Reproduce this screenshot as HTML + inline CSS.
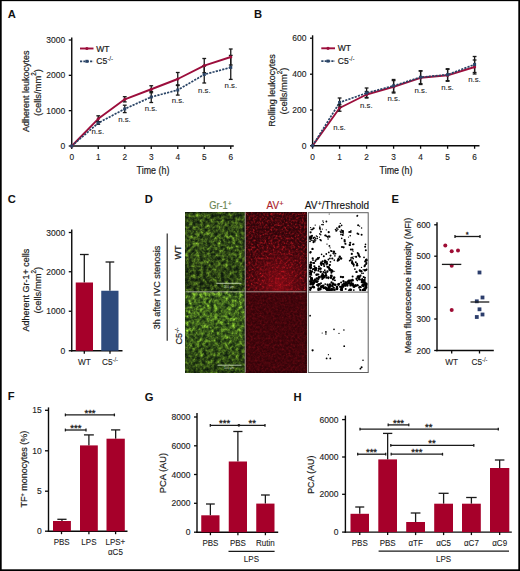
<!DOCTYPE html>
<html><head><meta charset="utf-8"><style>
html,body{margin:0;padding:0;background:#fff;}
svg{display:block;font-family:"Liberation Sans", sans-serif;}
</style></head><body>
<svg width="520" height="571" viewBox="0 0 520 571">
<rect x="0" y="0" width="520" height="571" fill="#fff"/>
<text x="7.80" y="17.60" font-size="11.2" font-weight="bold" fill="#111">A</text>
<line x1="71.75" y1="37.40" x2="71.75" y2="146.70" stroke="#0a0a0a" stroke-width="1.4" />
<line x1="68.75" y1="146.00" x2="71.75" y2="146.00" stroke="#0a0a0a" stroke-width="1.3" />
<text x="65.15" y="149.06" font-size="8.5" text-anchor="end" fill="#1c1c1c" stroke="#1c1c1c" stroke-width="0.12" font-weight="normal" >0</text>
<line x1="68.75" y1="110.67" x2="71.75" y2="110.67" stroke="#0a0a0a" stroke-width="1.3" />
<text x="65.15" y="113.73" font-size="8.5" text-anchor="end" fill="#1c1c1c" stroke="#1c1c1c" stroke-width="0.12" font-weight="normal" >1000</text>
<line x1="68.75" y1="75.33" x2="71.75" y2="75.33" stroke="#0a0a0a" stroke-width="1.3" />
<text x="65.15" y="78.39" font-size="8.5" text-anchor="end" fill="#1c1c1c" stroke="#1c1c1c" stroke-width="0.12" font-weight="normal" >2000</text>
<line x1="68.75" y1="40.00" x2="71.75" y2="40.00" stroke="#0a0a0a" stroke-width="1.3" />
<text x="65.15" y="43.06" font-size="8.5" text-anchor="end" fill="#1c1c1c" stroke="#1c1c1c" stroke-width="0.12" font-weight="normal" >3000</text>
<line x1="71.05" y1="146.00" x2="233.75" y2="146.00" stroke="#0a0a0a" stroke-width="1.4" />
<line x1="71.75" y1="146.00" x2="71.75" y2="149.00" stroke="#0a0a0a" stroke-width="1.3" />
<line x1="98.25" y1="146.00" x2="98.25" y2="149.00" stroke="#0a0a0a" stroke-width="1.3" />
<line x1="124.75" y1="146.00" x2="124.75" y2="149.00" stroke="#0a0a0a" stroke-width="1.3" />
<line x1="151.25" y1="146.00" x2="151.25" y2="149.00" stroke="#0a0a0a" stroke-width="1.3" />
<line x1="177.75" y1="146.00" x2="177.75" y2="149.00" stroke="#0a0a0a" stroke-width="1.3" />
<line x1="204.25" y1="146.00" x2="204.25" y2="149.00" stroke="#0a0a0a" stroke-width="1.3" />
<line x1="230.75" y1="146.00" x2="230.75" y2="149.00" stroke="#0a0a0a" stroke-width="1.3" />
<text x="71.75" y="159.99" font-size="8.3" text-anchor="middle" fill="#1c1c1c" stroke="#1c1c1c" stroke-width="0.12" font-weight="normal" >0</text>
<text x="98.25" y="159.99" font-size="8.3" text-anchor="middle" fill="#1c1c1c" stroke="#1c1c1c" stroke-width="0.12" font-weight="normal" >1</text>
<text x="124.75" y="159.99" font-size="8.3" text-anchor="middle" fill="#1c1c1c" stroke="#1c1c1c" stroke-width="0.12" font-weight="normal" >2</text>
<text x="151.25" y="159.99" font-size="8.3" text-anchor="middle" fill="#1c1c1c" stroke="#1c1c1c" stroke-width="0.12" font-weight="normal" >3</text>
<text x="177.75" y="159.99" font-size="8.3" text-anchor="middle" fill="#1c1c1c" stroke="#1c1c1c" stroke-width="0.12" font-weight="normal" >4</text>
<text x="204.25" y="159.99" font-size="8.3" text-anchor="middle" fill="#1c1c1c" stroke="#1c1c1c" stroke-width="0.12" font-weight="normal" >5</text>
<text x="230.75" y="159.99" font-size="8.3" text-anchor="middle" fill="#1c1c1c" stroke="#1c1c1c" stroke-width="0.12" font-weight="normal" >6</text>
<text transform="translate(153.0,173.6) scale(0.89,1)" font-size="10" text-anchor="middle" fill="#1c1c1c" stroke="#1c1c1c" stroke-width="0.2">Time (h)</text>
<text transform="translate(28.70,91.30) rotate(-90)" font-size="9" text-anchor="middle" fill="#1c1c1c" stroke="#1c1c1c" stroke-width="0.2">Adherent leukocytes</text>
<text transform="translate(41.00,92.50) rotate(-90)" font-size="9" text-anchor="middle" fill="#1c1c1c" stroke="#1c1c1c" stroke-width="0.2"><tspan font-size="9.4">(cells/mm</tspan><tspan font-size="6.3" dy="-4.6">2</tspan><tspan font-size="9.4" dy="4.6">)</tspan></text>
<polyline points="71.75,146.00 98.25,118.80 124.75,99.30 151.25,89.25 177.75,79.00 204.25,65.60 230.75,57.00" fill="none" stroke="#9c0e3c" stroke-width="1.9" stroke-linejoin="round"/>
<polyline points="71.75,146.00 98.25,123.00 124.75,108.90 151.25,97.00 177.75,90.00 204.25,74.50 230.75,67.40" fill="none" stroke="#2a4466" stroke-width="1.7" stroke-dasharray="2.2,1.15"/>
<line x1="98.25" y1="115.80" x2="98.25" y2="121.80" stroke="#1a1a1a" stroke-width="1.3" />
<line x1="96.35" y1="115.80" x2="100.15" y2="115.80" stroke="#1a1a1a" stroke-width="1.3" />
<line x1="96.35" y1="121.80" x2="100.15" y2="121.80" stroke="#1a1a1a" stroke-width="1.3" />
<line x1="98.25" y1="121.70" x2="98.25" y2="124.30" stroke="#1a1a1a" stroke-width="1.3" />
<line x1="96.35" y1="121.70" x2="100.15" y2="121.70" stroke="#1a1a1a" stroke-width="1.3" />
<line x1="96.35" y1="124.30" x2="100.15" y2="124.30" stroke="#1a1a1a" stroke-width="1.3" />
<line x1="124.75" y1="96.70" x2="124.75" y2="101.90" stroke="#1a1a1a" stroke-width="1.3" />
<line x1="122.85" y1="96.70" x2="126.65" y2="96.70" stroke="#1a1a1a" stroke-width="1.3" />
<line x1="122.85" y1="101.90" x2="126.65" y2="101.90" stroke="#1a1a1a" stroke-width="1.3" />
<line x1="124.75" y1="105.20" x2="124.75" y2="112.60" stroke="#1a1a1a" stroke-width="1.3" />
<line x1="122.85" y1="105.20" x2="126.65" y2="105.20" stroke="#1a1a1a" stroke-width="1.3" />
<line x1="122.85" y1="112.60" x2="126.65" y2="112.60" stroke="#1a1a1a" stroke-width="1.3" />
<line x1="151.25" y1="85.75" x2="151.25" y2="92.75" stroke="#1a1a1a" stroke-width="1.3" />
<line x1="149.35" y1="85.75" x2="153.15" y2="85.75" stroke="#1a1a1a" stroke-width="1.3" />
<line x1="149.35" y1="92.75" x2="153.15" y2="92.75" stroke="#1a1a1a" stroke-width="1.3" />
<line x1="151.25" y1="91.50" x2="151.25" y2="102.50" stroke="#1a1a1a" stroke-width="1.3" />
<line x1="149.35" y1="91.50" x2="153.15" y2="91.50" stroke="#1a1a1a" stroke-width="1.3" />
<line x1="149.35" y1="102.50" x2="153.15" y2="102.50" stroke="#1a1a1a" stroke-width="1.3" />
<line x1="177.75" y1="72.50" x2="177.75" y2="85.50" stroke="#1a1a1a" stroke-width="1.3" />
<line x1="175.85" y1="72.50" x2="179.65" y2="72.50" stroke="#1a1a1a" stroke-width="1.3" />
<line x1="175.85" y1="85.50" x2="179.65" y2="85.50" stroke="#1a1a1a" stroke-width="1.3" />
<line x1="177.75" y1="84.90" x2="177.75" y2="95.10" stroke="#1a1a1a" stroke-width="1.3" />
<line x1="175.85" y1="84.90" x2="179.65" y2="84.90" stroke="#1a1a1a" stroke-width="1.3" />
<line x1="175.85" y1="95.10" x2="179.65" y2="95.10" stroke="#1a1a1a" stroke-width="1.3" />
<line x1="204.25" y1="58.50" x2="204.25" y2="72.70" stroke="#1a1a1a" stroke-width="1.3" />
<line x1="202.35" y1="58.50" x2="206.15" y2="58.50" stroke="#1a1a1a" stroke-width="1.3" />
<line x1="202.35" y1="72.70" x2="206.15" y2="72.70" stroke="#1a1a1a" stroke-width="1.3" />
<line x1="204.25" y1="66.00" x2="204.25" y2="83.00" stroke="#1a1a1a" stroke-width="1.3" />
<line x1="202.35" y1="66.00" x2="206.15" y2="66.00" stroke="#1a1a1a" stroke-width="1.3" />
<line x1="202.35" y1="83.00" x2="206.15" y2="83.00" stroke="#1a1a1a" stroke-width="1.3" />
<line x1="230.75" y1="49.00" x2="230.75" y2="65.00" stroke="#1a1a1a" stroke-width="1.3" />
<line x1="228.85" y1="49.00" x2="232.65" y2="49.00" stroke="#1a1a1a" stroke-width="1.3" />
<line x1="228.85" y1="65.00" x2="232.65" y2="65.00" stroke="#1a1a1a" stroke-width="1.3" />
<line x1="230.75" y1="55.40" x2="230.75" y2="79.40" stroke="#1a1a1a" stroke-width="1.3" />
<line x1="228.85" y1="55.40" x2="232.65" y2="55.40" stroke="#1a1a1a" stroke-width="1.3" />
<line x1="228.85" y1="79.40" x2="232.65" y2="79.40" stroke="#1a1a1a" stroke-width="1.3" />
<circle cx="71.75" cy="146.00" r="1.6" fill="#9c0e3c"/>
<rect x="70.25" y="144.50" width="3.00" height="3.00" fill="#2a4466"/>
<circle cx="98.25" cy="118.80" r="1.6" fill="#9c0e3c"/>
<rect x="96.75" y="121.50" width="3.00" height="3.00" fill="#2a4466"/>
<circle cx="124.75" cy="99.30" r="1.6" fill="#9c0e3c"/>
<rect x="123.25" y="107.40" width="3.00" height="3.00" fill="#2a4466"/>
<circle cx="151.25" cy="89.25" r="1.6" fill="#9c0e3c"/>
<rect x="149.75" y="95.50" width="3.00" height="3.00" fill="#2a4466"/>
<circle cx="177.75" cy="79.00" r="1.6" fill="#9c0e3c"/>
<rect x="176.25" y="88.50" width="3.00" height="3.00" fill="#2a4466"/>
<circle cx="204.25" cy="65.60" r="1.6" fill="#9c0e3c"/>
<rect x="202.75" y="73.00" width="3.00" height="3.00" fill="#2a4466"/>
<circle cx="230.75" cy="57.00" r="1.6" fill="#9c0e3c"/>
<rect x="229.25" y="65.90" width="3.00" height="3.00" fill="#2a4466"/>
<text x="97.80" y="134.43" font-size="7.8" text-anchor="middle" fill="#1c1c1c" stroke="#1c1c1c" stroke-width="0.1" font-weight="normal" >n.s.</text>
<text x="124.50" y="122.23" font-size="7.8" text-anchor="middle" fill="#1c1c1c" stroke="#1c1c1c" stroke-width="0.1" font-weight="normal" >n.s.</text>
<text x="151.00" y="111.03" font-size="7.8" text-anchor="middle" fill="#1c1c1c" stroke="#1c1c1c" stroke-width="0.1" font-weight="normal" >n.s.</text>
<text x="178.00" y="103.33" font-size="7.8" text-anchor="middle" fill="#1c1c1c" stroke="#1c1c1c" stroke-width="0.1" font-weight="normal" >n.s.</text>
<text x="204.40" y="92.53" font-size="7.8" text-anchor="middle" fill="#1c1c1c" stroke="#1c1c1c" stroke-width="0.1" font-weight="normal" >n.s.</text>
<text x="230.90" y="88.23" font-size="7.8" text-anchor="middle" fill="#1c1c1c" stroke="#1c1c1c" stroke-width="0.1" font-weight="normal" >n.s.</text>
<line x1="80.00" y1="48.50" x2="93.50" y2="48.50" stroke="#9c0e3c" stroke-width="1.9" />
<circle cx="86.9" cy="48.5" r="1.6" fill="#9c0e3c"/>
<text x="96.30" y="51.56" font-size="8.5" text-anchor="start" fill="#1c1c1c" stroke="#1c1c1c" stroke-width="0.2" font-weight="normal" >WT</text>
<line x1="80.00" y1="61.30" x2="93.50" y2="61.30" stroke="#2a4466" stroke-width="1.7" stroke-dasharray="2.2,1.15"/>
<rect x="85.40" y="59.80" width="3.00" height="3.00" fill="#2a4466"/>
<text x="96.30" y="64.36" font-size="8.5" text-anchor="start" fill="#1c1c1c" stroke="#1c1c1c" stroke-width="0.2" font-weight="normal" >C5<tspan font-size="6.3" stroke-width="0.05" dy="-3">-/-</tspan></text>
<text x="254.00" y="17.60" font-size="11.2" font-weight="bold" fill="#111">B</text>
<line x1="312.60" y1="35.30" x2="312.60" y2="146.45" stroke="#0a0a0a" stroke-width="1.4" />
<line x1="310.00" y1="145.75" x2="312.60" y2="145.75" stroke="#0a0a0a" stroke-width="1.3" />
<text x="306.40" y="148.81" font-size="8.5" text-anchor="end" fill="#1c1c1c" stroke="#1c1c1c" stroke-width="0.12" font-weight="normal" >0</text>
<line x1="310.00" y1="110.00" x2="312.60" y2="110.00" stroke="#0a0a0a" stroke-width="1.3" />
<text x="306.40" y="113.06" font-size="8.5" text-anchor="end" fill="#1c1c1c" stroke="#1c1c1c" stroke-width="0.12" font-weight="normal" >200</text>
<line x1="310.00" y1="74.20" x2="312.60" y2="74.20" stroke="#0a0a0a" stroke-width="1.3" />
<text x="306.40" y="77.26" font-size="8.5" text-anchor="end" fill="#1c1c1c" stroke="#1c1c1c" stroke-width="0.12" font-weight="normal" >400</text>
<line x1="310.00" y1="38.20" x2="312.60" y2="38.20" stroke="#0a0a0a" stroke-width="1.3" />
<text x="306.40" y="41.26" font-size="8.5" text-anchor="end" fill="#1c1c1c" stroke="#1c1c1c" stroke-width="0.12" font-weight="normal" >600</text>
<line x1="311.90" y1="145.75" x2="479.50" y2="145.75" stroke="#0a0a0a" stroke-width="1.4" />
<line x1="312.60" y1="145.75" x2="312.60" y2="148.75" stroke="#0a0a0a" stroke-width="1.3" />
<line x1="339.60" y1="145.75" x2="339.60" y2="148.75" stroke="#0a0a0a" stroke-width="1.3" />
<line x1="366.60" y1="145.75" x2="366.60" y2="148.75" stroke="#0a0a0a" stroke-width="1.3" />
<line x1="393.60" y1="145.75" x2="393.60" y2="148.75" stroke="#0a0a0a" stroke-width="1.3" />
<line x1="420.60" y1="145.75" x2="420.60" y2="148.75" stroke="#0a0a0a" stroke-width="1.3" />
<line x1="447.60" y1="145.75" x2="447.60" y2="148.75" stroke="#0a0a0a" stroke-width="1.3" />
<line x1="474.60" y1="145.75" x2="474.60" y2="148.75" stroke="#0a0a0a" stroke-width="1.3" />
<text x="312.60" y="159.99" font-size="8.3" text-anchor="middle" fill="#1c1c1c" stroke="#1c1c1c" stroke-width="0.12" font-weight="normal" >0</text>
<text x="339.60" y="159.99" font-size="8.3" text-anchor="middle" fill="#1c1c1c" stroke="#1c1c1c" stroke-width="0.12" font-weight="normal" >1</text>
<text x="366.60" y="159.99" font-size="8.3" text-anchor="middle" fill="#1c1c1c" stroke="#1c1c1c" stroke-width="0.12" font-weight="normal" >2</text>
<text x="393.60" y="159.99" font-size="8.3" text-anchor="middle" fill="#1c1c1c" stroke="#1c1c1c" stroke-width="0.12" font-weight="normal" >3</text>
<text x="420.60" y="159.99" font-size="8.3" text-anchor="middle" fill="#1c1c1c" stroke="#1c1c1c" stroke-width="0.12" font-weight="normal" >4</text>
<text x="447.60" y="159.99" font-size="8.3" text-anchor="middle" fill="#1c1c1c" stroke="#1c1c1c" stroke-width="0.12" font-weight="normal" >5</text>
<text x="474.60" y="159.99" font-size="8.3" text-anchor="middle" fill="#1c1c1c" stroke="#1c1c1c" stroke-width="0.12" font-weight="normal" >6</text>
<text transform="translate(396.0,173.6) scale(0.89,1)" font-size="10" text-anchor="middle" fill="#1c1c1c" stroke="#1c1c1c" stroke-width="0.2">Time (h)</text>
<text transform="translate(274.90,90.50) rotate(-90)" font-size="9" text-anchor="middle" fill="#1c1c1c" stroke="#1c1c1c" stroke-width="0.2">Rolling leukocytes</text>
<text transform="translate(286.90,91.00) rotate(-90)" font-size="9" text-anchor="middle" fill="#1c1c1c" stroke="#1c1c1c" stroke-width="0.2"><tspan font-size="9.4">(cells/mm</tspan><tspan font-size="6.3" dy="-4.6">2</tspan><tspan font-size="9.4" dy="4.6">)</tspan></text>
<polyline points="312.60,145.75 339.60,108.00 366.60,94.50 393.60,86.80 420.60,77.80 447.60,75.30 474.60,67.00" fill="none" stroke="#9c0e3c" stroke-width="1.9" stroke-linejoin="round"/>
<polyline points="312.60,145.75 339.60,102.50 366.60,93.00 393.60,85.80 420.60,77.20 447.60,74.70 474.60,64.50" fill="none" stroke="#2a4466" stroke-width="1.7" stroke-dasharray="2.2,1.15"/>
<line x1="339.60" y1="98.00" x2="339.60" y2="107.00" stroke="#1a1a1a" stroke-width="1.3" />
<line x1="337.70" y1="98.00" x2="341.50" y2="98.00" stroke="#1a1a1a" stroke-width="1.3" />
<line x1="337.70" y1="107.00" x2="341.50" y2="107.00" stroke="#1a1a1a" stroke-width="1.3" />
<line x1="339.60" y1="104.75" x2="339.60" y2="111.25" stroke="#1a1a1a" stroke-width="1.3" />
<line x1="337.70" y1="104.75" x2="341.50" y2="104.75" stroke="#1a1a1a" stroke-width="1.3" />
<line x1="337.70" y1="111.25" x2="341.50" y2="111.25" stroke="#1a1a1a" stroke-width="1.3" />
<line x1="366.60" y1="88.00" x2="366.60" y2="98.00" stroke="#1a1a1a" stroke-width="1.3" />
<line x1="364.70" y1="88.00" x2="368.50" y2="88.00" stroke="#1a1a1a" stroke-width="1.3" />
<line x1="364.70" y1="98.00" x2="368.50" y2="98.00" stroke="#1a1a1a" stroke-width="1.3" />
<line x1="366.60" y1="91.50" x2="366.60" y2="97.50" stroke="#1a1a1a" stroke-width="1.3" />
<line x1="364.70" y1="91.50" x2="368.50" y2="91.50" stroke="#1a1a1a" stroke-width="1.3" />
<line x1="364.70" y1="97.50" x2="368.50" y2="97.50" stroke="#1a1a1a" stroke-width="1.3" />
<line x1="393.60" y1="79.50" x2="393.60" y2="92.10" stroke="#1a1a1a" stroke-width="1.3" />
<line x1="391.70" y1="79.50" x2="395.50" y2="79.50" stroke="#1a1a1a" stroke-width="1.3" />
<line x1="391.70" y1="92.10" x2="395.50" y2="92.10" stroke="#1a1a1a" stroke-width="1.3" />
<line x1="393.60" y1="80.60" x2="393.60" y2="93.00" stroke="#1a1a1a" stroke-width="1.3" />
<line x1="391.70" y1="80.60" x2="395.50" y2="80.60" stroke="#1a1a1a" stroke-width="1.3" />
<line x1="391.70" y1="93.00" x2="395.50" y2="93.00" stroke="#1a1a1a" stroke-width="1.3" />
<line x1="420.60" y1="70.75" x2="420.60" y2="83.65" stroke="#1a1a1a" stroke-width="1.3" />
<line x1="418.70" y1="70.75" x2="422.50" y2="70.75" stroke="#1a1a1a" stroke-width="1.3" />
<line x1="418.70" y1="83.65" x2="422.50" y2="83.65" stroke="#1a1a1a" stroke-width="1.3" />
<line x1="420.60" y1="71.10" x2="420.60" y2="84.50" stroke="#1a1a1a" stroke-width="1.3" />
<line x1="418.70" y1="71.10" x2="422.50" y2="71.10" stroke="#1a1a1a" stroke-width="1.3" />
<line x1="418.70" y1="84.50" x2="422.50" y2="84.50" stroke="#1a1a1a" stroke-width="1.3" />
<line x1="447.60" y1="68.75" x2="447.60" y2="80.65" stroke="#1a1a1a" stroke-width="1.3" />
<line x1="445.70" y1="68.75" x2="449.50" y2="68.75" stroke="#1a1a1a" stroke-width="1.3" />
<line x1="445.70" y1="80.65" x2="449.50" y2="80.65" stroke="#1a1a1a" stroke-width="1.3" />
<line x1="447.60" y1="69.35" x2="447.60" y2="81.25" stroke="#1a1a1a" stroke-width="1.3" />
<line x1="445.70" y1="69.35" x2="449.50" y2="69.35" stroke="#1a1a1a" stroke-width="1.3" />
<line x1="445.70" y1="81.25" x2="449.50" y2="81.25" stroke="#1a1a1a" stroke-width="1.3" />
<line x1="474.60" y1="56.50" x2="474.60" y2="72.50" stroke="#1a1a1a" stroke-width="1.3" />
<line x1="472.70" y1="56.50" x2="476.50" y2="56.50" stroke="#1a1a1a" stroke-width="1.3" />
<line x1="472.70" y1="72.50" x2="476.50" y2="72.50" stroke="#1a1a1a" stroke-width="1.3" />
<line x1="474.60" y1="60.00" x2="474.60" y2="74.00" stroke="#1a1a1a" stroke-width="1.3" />
<line x1="472.70" y1="60.00" x2="476.50" y2="60.00" stroke="#1a1a1a" stroke-width="1.3" />
<line x1="472.70" y1="74.00" x2="476.50" y2="74.00" stroke="#1a1a1a" stroke-width="1.3" />
<circle cx="312.60" cy="145.75" r="1.6" fill="#9c0e3c"/>
<rect x="311.10" y="144.25" width="3.00" height="3.00" fill="#2a4466"/>
<circle cx="339.60" cy="108.00" r="1.6" fill="#9c0e3c"/>
<rect x="338.10" y="101.00" width="3.00" height="3.00" fill="#2a4466"/>
<circle cx="366.60" cy="94.50" r="1.6" fill="#9c0e3c"/>
<rect x="365.10" y="91.50" width="3.00" height="3.00" fill="#2a4466"/>
<circle cx="393.60" cy="86.80" r="1.6" fill="#9c0e3c"/>
<rect x="392.10" y="84.30" width="3.00" height="3.00" fill="#2a4466"/>
<circle cx="420.60" cy="77.80" r="1.6" fill="#9c0e3c"/>
<rect x="419.10" y="75.70" width="3.00" height="3.00" fill="#2a4466"/>
<circle cx="447.60" cy="75.30" r="1.6" fill="#9c0e3c"/>
<rect x="446.10" y="73.20" width="3.00" height="3.00" fill="#2a4466"/>
<circle cx="474.60" cy="67.00" r="1.6" fill="#9c0e3c"/>
<rect x="473.10" y="63.00" width="3.00" height="3.00" fill="#2a4466"/>
<text x="339.50" y="129.53" font-size="7.8" text-anchor="middle" fill="#1c1c1c" stroke="#1c1c1c" stroke-width="0.1" font-weight="normal" >n.s.</text>
<text x="366.30" y="107.83" font-size="7.8" text-anchor="middle" fill="#1c1c1c" stroke="#1c1c1c" stroke-width="0.1" font-weight="normal" >n.s.</text>
<text x="393.80" y="100.83" font-size="7.8" text-anchor="middle" fill="#1c1c1c" stroke="#1c1c1c" stroke-width="0.1" font-weight="normal" >n.s.</text>
<text x="420.80" y="92.83" font-size="7.8" text-anchor="middle" fill="#1c1c1c" stroke="#1c1c1c" stroke-width="0.1" font-weight="normal" >n.s.</text>
<text x="447.50" y="90.03" font-size="7.8" text-anchor="middle" fill="#1c1c1c" stroke="#1c1c1c" stroke-width="0.1" font-weight="normal" >n.s.</text>
<text x="474.50" y="82.03" font-size="7.8" text-anchor="middle" fill="#1c1c1c" stroke="#1c1c1c" stroke-width="0.1" font-weight="normal" >n.s.</text>
<line x1="321.30" y1="48.30" x2="335.00" y2="48.30" stroke="#9c0e3c" stroke-width="1.9" />
<circle cx="328" cy="48.3" r="1.6" fill="#9c0e3c"/>
<text x="337.80" y="51.36" font-size="8.5" text-anchor="start" fill="#1c1c1c" stroke="#1c1c1c" stroke-width="0.2" font-weight="normal" >WT</text>
<line x1="321.30" y1="61.10" x2="335.00" y2="61.10" stroke="#2a4466" stroke-width="1.7" stroke-dasharray="2.2,1.15"/>
<rect x="326.50" y="59.60" width="3.00" height="3.00" fill="#2a4466"/>
<text x="337.80" y="64.16" font-size="8.5" text-anchor="start" fill="#1c1c1c" stroke="#1c1c1c" stroke-width="0.2" font-weight="normal" >C5<tspan font-size="6.3" stroke-width="0.05" dy="-3">-/-</tspan></text>
<text x="7.80" y="202.60" font-size="11.2" font-weight="bold" fill="#111">C</text>
<line x1="71.75" y1="229.50" x2="71.75" y2="351.45" stroke="#0a0a0a" stroke-width="1.4" />
<line x1="68.75" y1="350.75" x2="71.75" y2="350.75" stroke="#0a0a0a" stroke-width="1.3" />
<text x="65.15" y="353.81" font-size="8.5" text-anchor="end" fill="#1c1c1c" stroke="#1c1c1c" stroke-width="0.12" font-weight="normal" >0</text>
<line x1="68.75" y1="311.25" x2="71.75" y2="311.25" stroke="#0a0a0a" stroke-width="1.3" />
<text x="65.15" y="314.31" font-size="8.5" text-anchor="end" fill="#1c1c1c" stroke="#1c1c1c" stroke-width="0.12" font-weight="normal" >1000</text>
<line x1="68.75" y1="271.75" x2="71.75" y2="271.75" stroke="#0a0a0a" stroke-width="1.3" />
<text x="65.15" y="274.81" font-size="8.5" text-anchor="end" fill="#1c1c1c" stroke="#1c1c1c" stroke-width="0.12" font-weight="normal" >2000</text>
<line x1="68.75" y1="232.50" x2="71.75" y2="232.50" stroke="#0a0a0a" stroke-width="1.3" />
<text x="65.15" y="235.56" font-size="8.5" text-anchor="end" fill="#1c1c1c" stroke="#1c1c1c" stroke-width="0.12" font-weight="normal" >3000</text>
<line x1="71.05" y1="350.75" x2="122.50" y2="350.75" stroke="#0a0a0a" stroke-width="1.4" />
<line x1="84.30" y1="350.75" x2="84.30" y2="353.75" stroke="#0a0a0a" stroke-width="1.3" />
<line x1="110.00" y1="350.75" x2="110.00" y2="353.75" stroke="#0a0a0a" stroke-width="1.3" />
<line x1="84.30" y1="254.50" x2="84.30" y2="282.50" stroke="#1a1a1a" stroke-width="1.3" />
<line x1="79.95" y1="254.50" x2="88.65" y2="254.50" stroke="#1a1a1a" stroke-width="1.3" />
<line x1="109.90" y1="262.00" x2="109.90" y2="290.75" stroke="#1a1a1a" stroke-width="1.3" />
<line x1="105.55" y1="262.00" x2="114.25" y2="262.00" stroke="#1a1a1a" stroke-width="1.3" />
<rect x="75.75" y="282.50" width="17.25" height="68.25" fill="#a6002a"/>
<rect x="101.25" y="290.75" width="17.25" height="60.00" fill="#2e4b7d"/>
<text transform="translate(84.30,364.54) scale(0.92,1)" font-size="9" text-anchor="middle" fill="#1c1c1c" stroke="#1c1c1c" stroke-width="0.1">WT</text>
<text transform="translate(110.00,364.54) scale(0.92,1)" font-size="9" text-anchor="middle" fill="#1c1c1c" stroke="#1c1c1c" stroke-width="0.1">C5<tspan font-size="6.3" stroke-width="0.05" dy="-3">-/-</tspan></text>
<text transform="translate(29.00,290.20) rotate(-90)" font-size="9" text-anchor="middle" fill="#1c1c1c" stroke="#1c1c1c" stroke-width="0.2">Adherent Gr-1+ cells</text>
<text transform="translate(41.00,290.20) rotate(-90)" font-size="9" text-anchor="middle" fill="#1c1c1c" stroke="#1c1c1c" stroke-width="0.2"><tspan font-size="9.4">(cells/mm</tspan><tspan font-size="6.3" dy="-4.6">2</tspan><tspan font-size="9.4" dy="4.6">)</tspan></text>
<text x="144.80" y="202.60" font-size="11.2" font-weight="bold" fill="#111">D</text>
<text transform="translate(209.2,208.7) scale(0.93,1)" font-size="10" fill="#6a8452" stroke="#6a8452" stroke-width="0.15">Gr-1<tspan font-size="7.5" dy="-2.6">+</tspan></text>
<text x="266.6" y="208.7" font-size="10" fill="#ad1f30" stroke="#ad1f30" stroke-width="0.15">AV<tspan font-size="7.5" dy="-2.6">+</tspan></text>
<text x="304.8" y="208.7" font-size="10" fill="#111" stroke="#111" stroke-width="0.12">AV<tspan font-size="7.5" dy="-2.6">+</tspan><tspan dy="2.6">/Threshold</tspan></text>
<line x1="167.20" y1="233.50" x2="167.20" y2="340.80" stroke="#1a1a1a" stroke-width="1.1" />
<text transform="translate(159.60,287.40) rotate(-90)" font-size="9" text-anchor="middle" fill="#1c1c1c" stroke="#1c1c1c" stroke-width="0.2">3h after IVC stenosis</text>
<text transform="translate(181.40,252.40) rotate(-90)" font-size="9" text-anchor="middle" fill="#1c1c1c" stroke="#1c1c1c" stroke-width="0.2">WT</text>
<text transform="translate(182.00,336.00) rotate(-90)" font-size="9" text-anchor="middle" fill="#1c1c1c" stroke="#1c1c1c" stroke-width="0.2">C5<tspan font-size="6" dy="-3">-/-</tspan></text>
<defs>
<filter id="fg1" x="0" y="0" width="1" height="1" color-interpolation-filters="sRGB"><feTurbulence type="fractalNoise" baseFrequency="0.28" numOctaves="3" seed="4"/><feComponentTransfer><feFuncR type="gamma" amplitude="1" exponent="2" offset="0"/></feComponentTransfer><feColorMatrix type="matrix" values="0.7 0 0 0 0.035  0.95 0 0 0 0.079  0.2 0 0 0 0.047  0 0 0 0 1"/></filter>
<filter id="fg2" x="0" y="0" width="1" height="1" color-interpolation-filters="sRGB"><feTurbulence type="fractalNoise" baseFrequency="0.28" numOctaves="3" seed="9"/><feComponentTransfer><feFuncR type="gamma" amplitude="1" exponent="2" offset="0"/></feComponentTransfer><feColorMatrix type="matrix" values="0.8 0 0 0 0.059  1.1 0 0 0 0.13  0.22 0 0 0 0.062  0 0 0 0 1"/></filter>
<filter id="fr1" x="0" y="0" width="1" height="1" color-interpolation-filters="sRGB"><feTurbulence type="fractalNoise" baseFrequency="0.45" numOctaves="3" seed="2"/><feComponentTransfer><feFuncR type="gamma" amplitude="1" exponent="3" offset="0"/></feComponentTransfer><feColorMatrix type="matrix" values="0.9 0 0 0 0.159  0.12 0 0 0 0.0125  0.15 0 0 0 0.033  0 0 0 0 1"/></filter>
<filter id="fr2" x="0" y="0" width="1" height="1" color-interpolation-filters="sRGB"><feTurbulence type="fractalNoise" baseFrequency="0.45" numOctaves="3" seed="7"/><feComponentTransfer><feFuncR type="gamma" amplitude="1" exponent="2" offset="0"/></feComponentTransfer><feColorMatrix type="matrix" values="0.3 0 0 0 0.19  0.04 0 0 0 0.008  0.06 0 0 0 0.03  0 0 0 0 1"/></filter>
<linearGradient id="lgw" x1="0" y1="0" x2="0" y2="1"><stop offset="0" stop-color="#000" stop-opacity="0.12"/><stop offset="0.3" stop-color="#000" stop-opacity="0"/><stop offset="0.6" stop-color="#000" stop-opacity="0.05"/><stop offset="1" stop-color="#000" stop-opacity="0.22"/></linearGradient>
<linearGradient id="lgc" x1="0" y1="0" x2="0" y2="1"><stop offset="0" stop-color="#000" stop-opacity="0"/><stop offset="0.45" stop-color="#000" stop-opacity="0.05"/><stop offset="1" stop-color="#000" stop-opacity="0.35"/></linearGradient>
<radialGradient id="rg1" cx="0.55" cy="0.92" r="0.65"><stop offset="0" stop-color="#e01020" stop-opacity="0.42"/><stop offset="0.6" stop-color="#e01020" stop-opacity="0.12"/><stop offset="1" stop-color="#e01020" stop-opacity="0"/></radialGradient>
</defs>
<rect x="185.3" y="212.2" width="59.40" height="79.60" filter="url(#fg1)"/>
<rect x="185.3" y="291.8" width="59.40" height="80.70" filter="url(#fg2)"/>
<rect x="245.7" y="212.2" width="60.60" height="79.60" filter="url(#fr1)"/>
<rect x="245.7" y="291.8" width="60.60" height="80.70" filter="url(#fr2)"/>
<rect x="245.7" y="212.2" width="60.60" height="79.60" fill="url(#rg1)"/>
<rect x="185.3" y="212.2" width="59.40" height="79.60" fill="url(#lgw)"/>
<rect x="185.3" y="291.8" width="59.40" height="80.70" fill="url(#lgc)"/>
<line x1="185.30" y1="291.80" x2="306.30" y2="291.80" stroke="#b8b8b0" stroke-width="0.8" />
<line x1="245.20" y1="212.20" x2="245.20" y2="372.50" stroke="#d8d8d0" stroke-width="0.9" />
<line x1="216.30" y1="283.30" x2="241.40" y2="283.30" stroke="#d8e8c8" stroke-width="0.8" />
<line x1="217.50" y1="365.20" x2="241.40" y2="365.20" stroke="#d8e8c8" stroke-width="0.8" />
<text x="229" y="287.6" font-size="3" fill="#c8d8b8" text-anchor="middle">100 &#181;m</text>
<text x="229" y="369.4" font-size="3" fill="#c8d8b8" text-anchor="middle">100 &#181;m</text>
<rect x="308.3" y="212.7" width="59.90" height="159.80" fill="#fff" stroke="#5e5e5e" stroke-width="1"/>
<rect x="246.1" y="212.6" width="59.80" height="159.50" fill="none" stroke="#000" stroke-opacity="0.45" stroke-width="0.8"/>
<rect x="185.70000000000002" y="212.6" width="58.60" height="159.50" fill="none" stroke="#000" stroke-opacity="0.35" stroke-width="0.8"/>
<line x1="308.30" y1="292.10" x2="368.20" y2="292.10" stroke="#5e5e5e" stroke-width="1" />
<g fill="#000"><circle cx="320.2" cy="229.7" r="0.7"/><circle cx="321.0" cy="231.7" r="1.0"/><circle cx="364.8" cy="280.1" r="1.0"/><circle cx="362.2" cy="279.0" r="0.9"/><circle cx="362.6" cy="281.0" r="1.1"/><circle cx="318.3" cy="270.8" r="1.0"/><circle cx="320.4" cy="268.4" r="1.1"/><circle cx="328.8" cy="235.8" r="0.6"/><circle cx="326.6" cy="236.3" r="0.7"/><circle cx="350.9" cy="289.8" r="1.2"/><circle cx="333.3" cy="289.9" r="0.8"/><circle cx="327.7" cy="289.4" r="1.0"/><circle cx="328.5" cy="290.0" r="1.0"/><circle cx="335.0" cy="280.3" r="0.9"/><circle cx="333.6" cy="278.6" r="1.2"/><circle cx="341.7" cy="238.4" r="0.8"/><circle cx="365.8" cy="250.2" r="1.0"/><circle cx="311.5" cy="282.0" r="0.9"/><circle cx="310.8" cy="281.4" r="1.2"/><circle cx="313.2" cy="280.9" r="1.0"/><circle cx="323.0" cy="224.6" r="0.9"/><circle cx="321.7" cy="224.6" r="0.7"/><circle cx="352.6" cy="283.7" r="1.3"/><circle cx="310.2" cy="276.8" r="1.1"/><circle cx="311.8" cy="275.1" r="0.6"/><circle cx="339.4" cy="259.8" r="0.7"/><circle cx="337.6" cy="260.7" r="1.0"/><circle cx="338.6" cy="258.4" r="1.0"/><circle cx="344.3" cy="283.7" r="0.7"/><circle cx="345.4" cy="285.8" r="1.0"/><circle cx="345.4" cy="284.6" r="1.3"/><circle cx="345.7" cy="285.7" r="0.7"/><circle cx="344.9" cy="284.0" r="1.1"/><circle cx="340.3" cy="223.4" r="0.7"/><circle cx="339.3" cy="225.9" r="0.7"/><circle cx="311.2" cy="283.6" r="1.4"/><circle cx="313.4" cy="283.9" r="1.0"/><circle cx="335.9" cy="230.9" r="0.7"/><circle cx="313.2" cy="282.7" r="1.2"/><circle cx="314.7" cy="280.0" r="1.2"/><circle cx="315.9" cy="281.4" r="1.2"/><circle cx="314.5" cy="281.1" r="1.0"/><circle cx="314.2" cy="283.1" r="0.9"/><circle cx="361.6" cy="234.7" r="1.0"/><circle cx="342.6" cy="285.4" r="1.3"/><circle cx="337.9" cy="229.2" r="0.8"/><circle cx="336.6" cy="230.5" r="0.9"/><circle cx="333.0" cy="283.7" r="1.5"/><circle cx="334.3" cy="280.4" r="0.7"/><circle cx="326.3" cy="264.7" r="0.8"/><circle cx="329.6" cy="265.2" r="0.8"/><circle cx="328.9" cy="267.8" r="1.0"/><circle cx="357.1" cy="265.2" r="1.2"/><circle cx="357.1" cy="263.8" r="1.0"/><circle cx="355.8" cy="262.2" r="1.0"/><circle cx="343.6" cy="247.3" r="1.1"/><circle cx="342.0" cy="247.0" r="1.1"/><circle cx="328.3" cy="277.5" r="1.3"/><circle cx="328.4" cy="278.4" r="0.8"/><circle cx="330.1" cy="247.8" r="0.6"/><circle cx="327.0" cy="244.1" r="0.7"/><circle cx="311.1" cy="238.1" r="0.9"/><circle cx="310.8" cy="236.6" r="0.7"/><circle cx="309.8" cy="237.1" r="0.7"/><circle cx="341.1" cy="282.6" r="1.0"/><circle cx="343.4" cy="281.2" r="1.1"/><circle cx="342.7" cy="284.8" r="1.1"/><circle cx="328.4" cy="259.5" r="0.9"/><circle cx="329.9" cy="258.4" r="0.9"/><circle cx="323.1" cy="275.7" r="0.8"/><circle cx="326.4" cy="277.7" r="1.1"/><circle cx="323.4" cy="276.0" r="1.0"/><circle cx="323.6" cy="277.6" r="1.2"/><circle cx="323.1" cy="275.3" r="0.7"/><circle cx="360.2" cy="289.9" r="1.1"/><circle cx="360.8" cy="290.2" r="0.8"/><circle cx="363.4" cy="289.7" r="1.0"/><circle cx="362.8" cy="290.2" r="0.8"/><circle cx="319.8" cy="226.2" r="0.6"/><circle cx="322.7" cy="274.4" r="1.2"/><circle cx="323.4" cy="272.1" r="1.0"/><circle cx="325.9" cy="275.5" r="1.4"/><circle cx="321.3" cy="276.8" r="0.9"/><circle cx="319.8" cy="233.9" r="0.8"/><circle cx="321.5" cy="286.7" r="1.4"/><circle cx="323.9" cy="288.0" r="1.3"/><circle cx="321.9" cy="286.7" r="1.1"/><circle cx="320.0" cy="289.1" r="1.5"/><circle cx="321.7" cy="288.9" r="0.6"/><circle cx="341.6" cy="225.3" r="0.9"/><circle cx="311.7" cy="236.4" r="0.8"/><circle cx="310.2" cy="235.9" r="0.6"/><circle cx="316.5" cy="259.5" r="1.1"/><circle cx="318.1" cy="258.4" r="1.3"/><circle cx="322.7" cy="261.3" r="1.1"/><circle cx="323.7" cy="264.0" r="0.9"/><circle cx="321.1" cy="262.2" r="1.0"/><circle cx="328.7" cy="232.2" r="1.1"/><circle cx="340.9" cy="232.1" r="0.9"/><circle cx="340.2" cy="231.3" r="0.7"/><circle cx="316.1" cy="268.2" r="1.1"/><circle cx="314.4" cy="266.3" r="1.1"/><circle cx="315.1" cy="268.3" r="1.2"/><circle cx="364.6" cy="289.8" r="1.2"/><circle cx="363.0" cy="289.9" r="1.1"/><circle cx="364.4" cy="288.5" r="1.1"/><circle cx="364.3" cy="289.8" r="1.2"/><circle cx="364.9" cy="290.2" r="0.8"/><circle cx="315.8" cy="238.5" r="0.8"/><circle cx="315.8" cy="240.0" r="0.7"/><circle cx="317.4" cy="238.5" r="0.7"/><circle cx="317.3" cy="236.8" r="0.8"/><circle cx="329.4" cy="245.9" r="0.9"/><circle cx="325.2" cy="262.5" r="1.3"/><circle cx="347.3" cy="285.7" r="1.1"/><circle cx="344.4" cy="285.5" r="0.8"/><circle cx="348.5" cy="280.8" r="0.6"/><circle cx="346.1" cy="282.6" r="1.2"/><circle cx="315.0" cy="240.4" r="0.7"/><circle cx="314.9" cy="241.8" r="0.8"/><circle cx="359.8" cy="287.0" r="1.2"/><circle cx="362.3" cy="285.7" r="1.1"/><circle cx="360.4" cy="287.0" r="0.9"/><circle cx="361.1" cy="287.3" r="0.8"/><circle cx="332.5" cy="271.3" r="1.2"/><circle cx="361.7" cy="282.2" r="1.1"/><circle cx="364.3" cy="284.1" r="1.0"/><circle cx="363.0" cy="284.9" r="1.5"/><circle cx="365.5" cy="244.4" r="0.8"/><circle cx="365.1" cy="246.7" r="1.0"/><circle cx="312.1" cy="280.0" r="1.0"/><circle cx="312.1" cy="278.5" r="0.9"/><circle cx="311.7" cy="279.6" r="1.3"/><circle cx="310.3" cy="280.0" r="0.8"/><circle cx="352.4" cy="249.6" r="1.1"/><circle cx="350.9" cy="249.4" r="1.0"/><circle cx="353.1" cy="251.2" r="0.6"/><circle cx="335.2" cy="284.8" r="1.4"/><circle cx="332.3" cy="289.4" r="1.2"/><circle cx="333.6" cy="287.7" r="0.9"/><circle cx="333.8" cy="287.8" r="1.0"/><circle cx="310.8" cy="273.5" r="1.1"/><circle cx="310.2" cy="272.4" r="1.1"/><circle cx="310.5" cy="274.4" r="1.4"/><circle cx="311.2" cy="273.8" r="0.8"/><circle cx="352.2" cy="257.4" r="0.8"/><circle cx="351.1" cy="257.9" r="0.9"/><circle cx="353.1" cy="258.5" r="0.9"/><circle cx="354.0" cy="256.6" r="0.6"/><circle cx="366.6" cy="284.4" r="0.8"/><circle cx="364.9" cy="284.6" r="1.2"/><circle cx="366.0" cy="284.1" r="1.4"/><circle cx="366.0" cy="285.7" r="1.4"/><circle cx="366.2" cy="283.7" r="1.2"/><circle cx="317.3" cy="274.5" r="1.0"/><circle cx="312.9" cy="269.3" r="1.0"/><circle cx="315.4" cy="270.3" r="1.3"/><circle cx="326.3" cy="229.8" r="0.6"/><circle cx="310.9" cy="262.5" r="1.2"/><circle cx="310.9" cy="264.9" r="1.2"/><circle cx="331.7" cy="251.2" r="0.9"/><circle cx="330.9" cy="250.8" r="0.9"/><circle cx="333.1" cy="253.3" r="0.8"/><circle cx="359.3" cy="287.8" r="0.6"/><circle cx="357.9" cy="285.5" r="1.0"/><circle cx="359.1" cy="287.7" r="0.9"/><circle cx="328.1" cy="239.0" r="0.8"/><circle cx="310.9" cy="282.7" r="1.5"/><circle cx="313.3" cy="284.4" r="0.9"/><circle cx="312.2" cy="286.8" r="0.9"/><circle cx="313.1" cy="281.1" r="0.6"/><circle cx="312.4" cy="284.7" r="1.1"/><circle cx="325.2" cy="287.6" r="1.1"/><circle cx="313.6" cy="228.3" r="1.1"/><circle cx="312.4" cy="229.4" r="0.9"/><circle cx="364.9" cy="290.3" r="0.7"/><circle cx="365.3" cy="288.0" r="1.0"/><circle cx="363.2" cy="290.3" r="0.7"/><circle cx="366.0" cy="287.4" r="1.4"/><circle cx="352.7" cy="244.5" r="0.7"/><circle cx="353.5" cy="244.3" r="1.0"/><circle cx="336.9" cy="228.1" r="0.9"/><circle cx="314.2" cy="262.9" r="1.0"/><circle cx="334.6" cy="289.8" r="1.2"/><circle cx="363.1" cy="282.3" r="1.4"/><circle cx="364.1" cy="280.2" r="1.1"/><circle cx="364.3" cy="282.3" r="1.4"/><circle cx="365.0" cy="282.2" r="0.9"/><circle cx="312.6" cy="269.5" r="0.5"/><circle cx="311.1" cy="267.4" r="1.1"/><circle cx="310.1" cy="267.1" r="1.0"/><circle cx="312.5" cy="248.9" r="1.2"/><circle cx="327.5" cy="271.9" r="0.8"/><circle cx="327.4" cy="271.3" r="1.1"/><circle cx="331.4" cy="272.7" r="1.0"/><circle cx="330.8" cy="270.5" r="1.3"/><circle cx="330.3" cy="255.7" r="0.7"/><circle cx="330.6" cy="255.5" r="0.9"/><circle cx="310.7" cy="237.2" r="1.0"/><circle cx="319.9" cy="228.1" r="1.0"/><circle cx="342.7" cy="231.1" r="1.0"/><circle cx="354.9" cy="269.1" r="0.9"/><circle cx="356.5" cy="271.9" r="1.2"/><circle cx="319.9" cy="239.6" r="0.6"/><circle cx="340.1" cy="286.8" r="1.1"/><circle cx="338.5" cy="284.5" r="1.4"/><circle cx="351.5" cy="284.0" r="1.3"/><circle cx="351.1" cy="282.5" r="0.9"/><circle cx="350.6" cy="285.4" r="1.2"/><circle cx="350.8" cy="284.3" r="1.4"/><circle cx="316.5" cy="274.8" r="1.2"/><circle cx="329.2" cy="214.1" r="0.5"/><circle cx="310.2" cy="238.9" r="1.1"/><circle cx="366.2" cy="259.9" r="1.2"/><circle cx="366.3" cy="263.2" r="1.1"/><circle cx="365.2" cy="261.4" r="1.1"/><circle cx="347.6" cy="285.0" r="0.9"/><circle cx="350.0" cy="289.7" r="1.3"/><circle cx="348.6" cy="290.2" r="0.8"/><circle cx="345.7" cy="288.9" r="1.0"/><circle cx="350.4" cy="290.1" r="0.9"/><circle cx="329.5" cy="289.8" r="1.2"/><circle cx="330.8" cy="289.4" r="0.8"/><circle cx="329.6" cy="289.9" r="1.1"/><circle cx="331.5" cy="289.4" r="1.6"/><circle cx="361.9" cy="273.4" r="0.8"/><circle cx="359.8" cy="270.4" r="1.1"/><circle cx="363.3" cy="273.3" r="0.8"/><circle cx="322.0" cy="263.4" r="1.1"/><circle cx="321.1" cy="263.7" r="1.3"/><circle cx="347.4" cy="281.7" r="1.0"/><circle cx="346.8" cy="284.2" r="1.2"/><circle cx="345.1" cy="281.8" r="0.8"/><circle cx="324.8" cy="270.2" r="0.9"/><circle cx="325.4" cy="272.6" r="1.3"/><circle cx="356.1" cy="256.8" r="1.1"/><circle cx="339.8" cy="256.8" r="1.2"/><circle cx="341.1" cy="258.5" r="1.2"/><circle cx="363.6" cy="277.1" r="1.0"/><circle cx="364.9" cy="277.8" r="1.1"/><circle cx="362.5" cy="280.3" r="1.6"/><circle cx="360.9" cy="279.6" r="0.8"/><circle cx="320.3" cy="288.7" r="0.8"/><circle cx="318.5" cy="289.7" r="1.3"/><circle cx="343.1" cy="277.1" r="1.1"/><circle cx="342.5" cy="277.3" r="1.0"/><circle cx="342.5" cy="234.7" r="0.7"/><circle cx="341.0" cy="234.4" r="0.9"/><circle cx="327.8" cy="236.8" r="1.1"/><circle cx="310.7" cy="251.9" r="1.0"/><circle cx="357.8" cy="276.8" r="1.2"/><circle cx="359.3" cy="277.0" r="1.4"/><circle cx="332.4" cy="286.0" r="1.4"/><circle cx="323.2" cy="263.9" r="0.9"/><circle cx="324.0" cy="265.1" r="0.8"/><circle cx="324.2" cy="266.2" r="0.9"/><circle cx="359.3" cy="279.3" r="1.2"/><circle cx="358.3" cy="278.0" r="0.9"/><circle cx="356.6" cy="278.8" r="1.2"/><circle cx="360.4" cy="275.7" r="1.1"/><circle cx="358.4" cy="276.3" r="1.1"/><circle cx="330.4" cy="261.8" r="0.9"/><circle cx="310.1" cy="237.7" r="1.0"/><circle cx="313.6" cy="242.2" r="0.7"/><circle cx="311.9" cy="240.0" r="0.6"/><circle cx="312.8" cy="240.6" r="0.6"/><circle cx="313.0" cy="260.1" r="0.9"/><circle cx="312.7" cy="258.4" r="1.1"/><circle cx="317.0" cy="285.0" r="1.1"/><circle cx="313.8" cy="287.2" r="1.3"/><circle cx="313.3" cy="286.8" r="1.3"/><circle cx="351.8" cy="253.9" r="1.1"/><circle cx="309.9" cy="266.9" r="0.8"/><circle cx="310.5" cy="268.0" r="1.3"/><circle cx="310.3" cy="266.6" r="1.2"/><circle cx="366.5" cy="260.6" r="0.9"/><circle cx="366.5" cy="259.4" r="0.9"/><circle cx="310.6" cy="232.3" r="1.1"/><circle cx="314.3" cy="237.3" r="0.8"/><circle cx="349.8" cy="244.9" r="1.2"/><circle cx="342.9" cy="235.0" r="0.9"/><circle cx="319.8" cy="228.7" r="0.7"/><circle cx="322.3" cy="229.1" r="0.6"/><circle cx="350.7" cy="231.9" r="0.9"/><circle cx="343.0" cy="231.3" r="1.0"/><circle cx="345.3" cy="243.7" r="1.0"/><circle cx="345.9" cy="244.0" r="0.6"/><circle cx="318.0" cy="281.1" r="0.8"/><circle cx="318.3" cy="284.6" r="1.3"/><circle cx="319.3" cy="284.2" r="1.3"/><circle cx="321.0" cy="283.2" r="1.0"/><circle cx="316.8" cy="281.5" r="1.5"/><circle cx="366.6" cy="269.3" r="0.8"/><circle cx="363.2" cy="269.6" r="0.7"/><circle cx="358.5" cy="234.1" r="0.9"/><circle cx="357.5" cy="233.4" r="1.0"/><circle cx="310.6" cy="227.6" r="0.7"/><circle cx="339.3" cy="227.1" r="1.0"/><circle cx="337.0" cy="287.0" r="1.3"/><circle cx="323.4" cy="222.3" r="0.6"/><circle cx="322.9" cy="221.0" r="0.7"/><circle cx="334.2" cy="260.6" r="0.6"/><circle cx="311.1" cy="272.2" r="1.2"/><circle cx="310.3" cy="272.6" r="1.1"/><circle cx="310.1" cy="270.6" r="1.0"/><circle cx="326.4" cy="221.5" r="0.9"/><circle cx="314.8" cy="270.3" r="0.7"/><circle cx="315.7" cy="269.0" r="1.4"/><circle cx="332.8" cy="279.5" r="1.0"/><circle cx="331.0" cy="277.8" r="1.2"/><circle cx="331.6" cy="276.5" r="0.9"/><circle cx="331.3" cy="275.8" r="1.4"/><circle cx="334.2" cy="277.4" r="1.2"/><circle cx="312.0" cy="235.8" r="1.0"/><circle cx="313.4" cy="237.9" r="0.8"/><circle cx="318.7" cy="288.6" r="1.3"/><circle cx="318.2" cy="285.6" r="1.3"/><circle cx="329.7" cy="269.7" r="1.4"/><circle cx="331.8" cy="270.5" r="0.9"/><circle cx="329.5" cy="268.6" r="0.6"/><circle cx="329.9" cy="269.1" r="1.0"/><circle cx="320.5" cy="271.5" r="1.1"/><circle cx="320.8" cy="271.8" r="1.1"/><circle cx="328.9" cy="267.4" r="1.0"/><circle cx="328.9" cy="266.6" r="0.7"/><circle cx="329.7" cy="265.0" r="1.1"/><circle cx="330.0" cy="264.6" r="0.6"/><circle cx="327.4" cy="266.8" r="1.1"/><circle cx="329.7" cy="269.0" r="0.6"/><circle cx="328.1" cy="267.6" r="1.0"/><circle cx="325.5" cy="261.2" r="1.2"/><circle cx="327.1" cy="263.7" r="1.1"/><circle cx="326.9" cy="262.0" r="1.1"/><circle cx="324.9" cy="260.6" r="1.1"/><circle cx="342.4" cy="232.3" r="0.7"/><circle cx="343.2" cy="232.9" r="0.9"/><circle cx="342.2" cy="230.8" r="0.9"/><circle cx="353.8" cy="290.1" r="0.9"/><circle cx="340.9" cy="276.9" r="1.1"/><circle cx="314.9" cy="237.7" r="0.8"/><circle cx="316.4" cy="236.0" r="0.8"/><circle cx="331.7" cy="270.0" r="0.9"/><circle cx="334.6" cy="271.3" r="0.5"/><circle cx="357.2" cy="280.4" r="0.7"/><circle cx="357.4" cy="280.6" r="0.8"/><circle cx="310.8" cy="238.7" r="0.7"/><circle cx="311.2" cy="240.2" r="0.8"/><circle cx="310.0" cy="241.3" r="0.9"/><circle cx="319.1" cy="277.2" r="1.5"/><circle cx="318.3" cy="279.2" r="1.1"/><circle cx="366.2" cy="260.2" r="1.2"/><circle cx="364.0" cy="257.3" r="0.9"/><circle cx="353.8" cy="264.6" r="1.0"/><circle cx="352.7" cy="263.7" r="1.1"/><circle cx="353.7" cy="265.8" r="0.9"/><circle cx="352.8" cy="263.5" r="0.9"/><circle cx="350.9" cy="230.7" r="0.7"/><circle cx="313.5" cy="238.4" r="0.7"/><circle cx="314.5" cy="239.7" r="0.8"/><circle cx="310.3" cy="252.6" r="1.1"/><circle cx="336.6" cy="230.6" r="0.7"/><circle cx="335.5" cy="229.5" r="0.8"/><circle cx="352.4" cy="279.9" r="1.2"/><circle cx="352.5" cy="280.4" r="1.2"/><circle cx="351.5" cy="280.9" r="0.8"/><circle cx="348.7" cy="280.5" r="1.1"/><circle cx="349.9" cy="280.5" r="0.9"/><circle cx="311.4" cy="237.9" r="1.1"/><circle cx="309.8" cy="237.0" r="0.7"/><circle cx="348.2" cy="283.3" r="1.2"/><circle cx="348.9" cy="283.2" r="0.8"/><circle cx="344.1" cy="283.6" r="1.4"/><circle cx="358.1" cy="225.3" r="1.0"/><circle cx="311.6" cy="282.2" r="1.2"/><circle cx="312.8" cy="282.9" r="0.8"/><circle cx="310.1" cy="281.3" r="1.0"/><circle cx="311.4" cy="278.5" r="1.3"/><circle cx="357.7" cy="215.3" r="0.6"/><circle cx="339.9" cy="226.2" r="0.6"/><circle cx="341.2" cy="289.6" r="1.4"/><circle cx="341.8" cy="289.8" r="1.2"/><circle cx="341.7" cy="288.2" r="1.3"/><circle cx="342.1" cy="290.1" r="0.9"/><circle cx="341.2" cy="289.8" r="0.9"/><circle cx="336.9" cy="288.7" r="1.5"/><circle cx="321.1" cy="286.8" r="1.2"/><circle cx="321.4" cy="275.6" r="0.7"/><circle cx="323.7" cy="275.9" r="1.2"/><circle cx="326.1" cy="273.3" r="0.8"/><circle cx="322.5" cy="274.1" r="1.1"/><circle cx="341.5" cy="287.1" r="1.3"/><circle cx="339.1" cy="283.7" r="0.9"/><circle cx="343.1" cy="286.3" r="1.3"/><circle cx="343.3" cy="286.8" r="1.0"/><circle cx="349.3" cy="282.2" r="0.8"/><circle cx="350.7" cy="280.6" r="1.2"/><circle cx="348.8" cy="281.5" r="1.4"/><circle cx="349.4" cy="283.0" r="1.1"/><circle cx="313.7" cy="241.3" r="1.0"/><circle cx="313.4" cy="242.3" r="0.9"/><circle cx="352.2" cy="261.2" r="1.0"/><circle cx="352.1" cy="262.8" r="1.2"/><circle cx="311.2" cy="229.6" r="0.8"/><circle cx="310.4" cy="289.3" r="1.0"/><circle cx="344.6" cy="240.0" r="1.1"/><circle cx="344.7" cy="241.4" r="1.1"/><circle cx="350.2" cy="242.8" r="1.1"/><circle cx="311.6" cy="278.3" r="1.2"/><circle cx="339.4" cy="226.8" r="0.9"/><circle cx="319.5" cy="237.2" r="0.6"/><circle cx="335.5" cy="253.6" r="0.9"/><circle cx="333.9" cy="251.7" r="1.2"/><circle cx="334.0" cy="253.0" r="0.7"/><circle cx="358.8" cy="255.5" r="1.2"/><circle cx="357.7" cy="252.9" r="1.0"/><circle cx="359.8" cy="256.7" r="1.0"/><circle cx="358.5" cy="254.1" r="1.1"/><circle cx="310.9" cy="287.9" r="1.2"/><circle cx="313.3" cy="287.3" r="0.8"/><circle cx="310.0" cy="287.5" r="0.9"/><circle cx="310.2" cy="289.9" r="1.1"/><circle cx="325.1" cy="235.4" r="0.9"/><circle cx="325.8" cy="235.5" r="0.9"/><circle cx="329.1" cy="286.5" r="1.5"/><circle cx="328.7" cy="288.9" r="1.5"/><circle cx="330.0" cy="290.1" r="0.9"/><circle cx="327.2" cy="289.3" r="1.6"/><circle cx="328.9" cy="287.1" r="1.2"/><circle cx="334.9" cy="255.9" r="0.8"/><circle cx="334.0" cy="254.0" r="0.8"/><circle cx="366.4" cy="269.8" r="1.0"/><circle cx="338.3" cy="259.9" r="1.3"/><circle cx="318.4" cy="274.5" r="1.0"/><circle cx="320.7" cy="269.1" r="0.8"/><circle cx="321.4" cy="265.2" r="0.9"/><circle cx="357.2" cy="215.9" r="0.9"/><circle cx="341.2" cy="232.2" r="0.6"/><circle cx="349.0" cy="232.1" r="0.8"/><circle cx="349.8" cy="231.9" r="0.9"/><circle cx="319.0" cy="266.6" r="1.0"/><circle cx="320.9" cy="268.8" r="0.7"/><circle cx="318.9" cy="268.8" r="1.3"/><circle cx="366.2" cy="264.4" r="0.7"/><circle cx="365.1" cy="265.0" r="1.0"/><circle cx="364.6" cy="266.2" r="1.1"/><circle cx="365.0" cy="270.3" r="1.3"/><circle cx="310.4" cy="264.9" r="1.3"/><circle cx="310.1" cy="265.0" r="0.8"/><circle cx="323.8" cy="256.2" r="1.0"/><circle cx="321.6" cy="254.4" r="0.8"/><circle cx="341.4" cy="230.1" r="0.8"/><circle cx="325.2" cy="287.9" r="1.1"/><circle cx="327.5" cy="289.5" r="1.5"/><circle cx="350.2" cy="235.8" r="0.8"/><circle cx="348.5" cy="237.1" r="0.6"/><circle cx="350.8" cy="259.9" r="1.0"/><circle cx="349.7" cy="260.7" r="0.9"/><circle cx="365.7" cy="288.7" r="1.0"/><circle cx="363.6" cy="286.1" r="1.2"/><circle cx="361.5" cy="267.4" r="0.7"/><circle cx="361.3" cy="271.2" r="1.2"/><circle cx="359.9" cy="270.8" r="1.0"/><circle cx="313.6" cy="268.9" r="1.0"/><circle cx="314.3" cy="272.5" r="0.9"/><circle cx="312.0" cy="271.3" r="1.1"/><circle cx="359.6" cy="226.1" r="0.7"/><circle cx="361.6" cy="228.0" r="0.7"/><circle cx="321.1" cy="240.7" r="0.7"/><circle cx="320.6" cy="240.0" r="0.9"/><circle cx="324.2" cy="276.6" r="1.0"/><circle cx="322.3" cy="278.9" r="1.1"/><circle cx="321.8" cy="276.3" r="1.4"/><circle cx="324.1" cy="276.0" r="0.6"/><circle cx="324.7" cy="277.1" r="0.8"/><circle cx="331.5" cy="282.4" r="1.1"/><circle cx="316.8" cy="278.6" r="1.3"/><circle cx="315.0" cy="279.6" r="1.1"/><circle cx="311.7" cy="279.1" r="1.1"/><circle cx="314.6" cy="282.5" r="0.8"/><circle cx="313.6" cy="262.9" r="0.9"/><circle cx="313.0" cy="262.9" r="0.8"/><circle cx="315.4" cy="261.1" r="1.0"/><circle cx="323.0" cy="277.7" r="1.1"/><circle cx="323.0" cy="276.6" r="1.4"/><circle cx="310.2" cy="284.4" r="1.0"/><circle cx="334.3" cy="260.0" r="0.8"/><circle cx="332.3" cy="258.5" r="1.1"/><circle cx="352.6" cy="276.4" r="1.0"/><circle cx="329.4" cy="236.7" r="1.1"/><circle cx="328.8" cy="252.4" r="0.9"/><circle cx="326.3" cy="254.0" r="0.9"/><circle cx="329.6" cy="286.9" r="1.2"/><circle cx="330.0" cy="284.5" r="1.3"/><circle cx="330.5" cy="285.8" r="1.0"/><circle cx="327.6" cy="284.8" r="1.2"/><circle cx="317.6" cy="258.8" r="0.6"/><circle cx="319.3" cy="257.5" r="0.7"/><circle cx="354.0" cy="286.5" r="1.5"/><circle cx="357.6" cy="284.9" r="0.8"/><circle cx="353.2" cy="285.2" r="1.4"/><circle cx="355.7" cy="285.4" r="1.5"/><circle cx="320.7" cy="234.8" r="0.8"/><circle cx="311.3" cy="271.7" r="0.9"/><circle cx="366.2" cy="270.2" r="0.6"/><circle cx="325.2" cy="284.1" r="0.9"/><circle cx="323.2" cy="285.7" r="1.3"/><circle cx="315.2" cy="225.1" r="0.7"/><circle cx="325.3" cy="287.8" r="1.4"/><circle cx="322.7" cy="286.8" r="1.2"/><circle cx="326.3" cy="288.3" r="1.6"/><circle cx="310.1" cy="315.7" r="0.9"/><circle cx="312.6" cy="350.3" r="1.1"/><circle cx="325.9" cy="331.9" r="0.9"/><circle cx="325.9" cy="334.0" r="0.8"/><circle cx="334.0" cy="329.4" r="0.8"/><circle cx="339.0" cy="333.4" r="0.6"/><circle cx="343.9" cy="330.0" r="0.8"/><circle cx="344.2" cy="346.2" r="0.9"/><circle cx="326.6" cy="358.4" r="0.9"/><circle cx="330.3" cy="358.4" r="0.9"/><circle cx="328.4" cy="354.7" r="0.6"/><circle cx="363.0" cy="360.3" r="0.8"/><circle cx="361.6" cy="367.2" r="1.0"/><circle cx="360.4" cy="368.7" r="0.9"/><circle cx="322.2" cy="333.0" r="0.6"/></g>
<text x="391.50" y="202.60" font-size="11.2" font-weight="bold" fill="#111">E</text>
<line x1="437.00" y1="222.30" x2="437.00" y2="351.20" stroke="#0a0a0a" stroke-width="1.4" />
<line x1="434.20" y1="350.50" x2="437.00" y2="350.50" stroke="#0a0a0a" stroke-width="1.3" />
<text x="430.60" y="353.56" font-size="8.5" text-anchor="end" fill="#1c1c1c" stroke="#1c1c1c" stroke-width="0.12" font-weight="normal" >200</text>
<line x1="434.20" y1="319.00" x2="437.00" y2="319.00" stroke="#0a0a0a" stroke-width="1.3" />
<text x="430.60" y="322.06" font-size="8.5" text-anchor="end" fill="#1c1c1c" stroke="#1c1c1c" stroke-width="0.12" font-weight="normal" >300</text>
<line x1="434.20" y1="287.40" x2="437.00" y2="287.40" stroke="#0a0a0a" stroke-width="1.3" />
<text x="430.60" y="290.46" font-size="8.5" text-anchor="end" fill="#1c1c1c" stroke="#1c1c1c" stroke-width="0.12" font-weight="normal" >400</text>
<line x1="434.20" y1="256.20" x2="437.00" y2="256.20" stroke="#0a0a0a" stroke-width="1.3" />
<text x="430.60" y="259.26" font-size="8.5" text-anchor="end" fill="#1c1c1c" stroke="#1c1c1c" stroke-width="0.12" font-weight="normal" >500</text>
<line x1="434.20" y1="224.80" x2="437.00" y2="224.80" stroke="#0a0a0a" stroke-width="1.3" />
<text x="430.60" y="227.86" font-size="8.5" text-anchor="end" fill="#1c1c1c" stroke="#1c1c1c" stroke-width="0.12" font-weight="normal" >600</text>
<line x1="436.30" y1="350.50" x2="493.80" y2="350.50" stroke="#0a0a0a" stroke-width="1.4" />
<line x1="451.70" y1="350.50" x2="451.70" y2="353.50" stroke="#0a0a0a" stroke-width="1.3" />
<line x1="479.50" y1="350.50" x2="479.50" y2="353.50" stroke="#0a0a0a" stroke-width="1.3" />
<text transform="translate(451.70,364.74) scale(0.92,1)" font-size="9" text-anchor="middle" fill="#1c1c1c" stroke="#1c1c1c" stroke-width="0.1">WT</text>
<text transform="translate(479.50,364.74) scale(0.92,1)" font-size="9" text-anchor="middle" fill="#1c1c1c" stroke="#1c1c1c" stroke-width="0.1">C5<tspan font-size="6.3" stroke-width="0.05" dy="-3">-/-</tspan></text>
<text transform="translate(410.60,285.50) rotate(-90)" font-size="9" text-anchor="middle" fill="#1c1c1c" stroke="#1c1c1c" stroke-width="0.2">Mean fluorescence intensity (MFI)</text>
<circle cx="445.3" cy="245.6" r="2.0" fill="#9e0d35"/>
<circle cx="451.7" cy="251.3" r="2.0" fill="#9e0d35"/>
<circle cx="458.0" cy="250.6" r="2.0" fill="#9e0d35"/>
<circle cx="451.7" cy="265.8" r="2.0" fill="#9e0d35"/>
<circle cx="451.7" cy="310.0" r="2.0" fill="#9e0d35"/>
<rect x="477.60" y="270.60" width="3.80" height="3.80" fill="#2c3e6c"/>
<rect x="480.60" y="295.60" width="3.80" height="3.80" fill="#2c3e6c"/>
<rect x="474.90" y="299.40" width="3.80" height="3.80" fill="#2c3e6c"/>
<rect x="477.60" y="307.40" width="3.80" height="3.80" fill="#2c3e6c"/>
<rect x="474.90" y="315.10" width="3.80" height="3.80" fill="#2c3e6c"/>
<rect x="480.60" y="312.60" width="3.80" height="3.80" fill="#2c3e6c"/>
<line x1="441.90" y1="264.40" x2="461.30" y2="264.40" stroke="#1a1a1a" stroke-width="1.3" />
<line x1="470.50" y1="302.00" x2="489.30" y2="302.00" stroke="#1a1a1a" stroke-width="1.3" />
<line x1="455.00" y1="236.50" x2="480.00" y2="236.50" stroke="#1a1a1a" stroke-width="1.3" />
<line x1="455.00" y1="235.10" x2="455.00" y2="237.90" stroke="#1a1a1a" stroke-width="1.3" />
<line x1="480.00" y1="235.10" x2="480.00" y2="237.90" stroke="#1a1a1a" stroke-width="1.3" />
<text x="467.20" y="237.43" font-size="7.5" text-anchor="middle" fill="#1c1c1c" stroke="#1c1c1c" stroke-width="0.3">*</text>
<text x="7.80" y="399.50" font-size="11.2" font-weight="bold" fill="#111">F</text>
<line x1="48.50" y1="407.40" x2="48.50" y2="531.90" stroke="#0a0a0a" stroke-width="1.4" />
<line x1="45.00" y1="531.20" x2="48.50" y2="531.20" stroke="#0a0a0a" stroke-width="1.3" />
<text x="41.80" y="534.26" font-size="8.5" text-anchor="end" fill="#1c1c1c" stroke="#1c1c1c" stroke-width="0.12" font-weight="normal" >0</text>
<line x1="45.00" y1="491.20" x2="48.50" y2="491.20" stroke="#0a0a0a" stroke-width="1.3" />
<text x="41.80" y="494.26" font-size="8.5" text-anchor="end" fill="#1c1c1c" stroke="#1c1c1c" stroke-width="0.12" font-weight="normal" >5</text>
<line x1="45.00" y1="450.80" x2="48.50" y2="450.80" stroke="#0a0a0a" stroke-width="1.3" />
<text x="41.80" y="453.86" font-size="8.5" text-anchor="end" fill="#1c1c1c" stroke="#1c1c1c" stroke-width="0.12" font-weight="normal" >10</text>
<line x1="45.00" y1="410.30" x2="48.50" y2="410.30" stroke="#0a0a0a" stroke-width="1.3" />
<text x="41.80" y="413.36" font-size="8.5" text-anchor="end" fill="#1c1c1c" stroke="#1c1c1c" stroke-width="0.12" font-weight="normal" >15</text>
<line x1="47.80" y1="531.20" x2="127.50" y2="531.20" stroke="#0a0a0a" stroke-width="1.4" />
<line x1="61.50" y1="531.20" x2="61.50" y2="534.20" stroke="#0a0a0a" stroke-width="1.3" />
<line x1="88.90" y1="531.20" x2="88.90" y2="534.20" stroke="#0a0a0a" stroke-width="1.3" />
<line x1="115.60" y1="531.20" x2="115.60" y2="534.20" stroke="#0a0a0a" stroke-width="1.3" />
<line x1="61.95" y1="519.30" x2="61.95" y2="521.00" stroke="#1a1a1a" stroke-width="1.3" />
<line x1="57.35" y1="519.30" x2="66.55" y2="519.30" stroke="#1a1a1a" stroke-width="1.3" />
<rect x="53.00" y="521.00" width="17.90" height="10.20" fill="#a6002a"/>
<line x1="88.90" y1="434.90" x2="88.90" y2="445.40" stroke="#1a1a1a" stroke-width="1.3" />
<line x1="83.95" y1="434.90" x2="93.85" y2="434.90" stroke="#1a1a1a" stroke-width="1.3" />
<rect x="80.00" y="445.40" width="17.80" height="85.80" fill="#a6002a"/>
<line x1="115.65" y1="429.90" x2="115.65" y2="438.70" stroke="#1a1a1a" stroke-width="1.3" />
<line x1="111.05" y1="429.90" x2="120.25" y2="429.90" stroke="#1a1a1a" stroke-width="1.3" />
<rect x="106.50" y="438.70" width="18.30" height="92.50" fill="#a6002a"/>
<text transform="translate(61.70,545.17) scale(0.91,1)" font-size="8.8" text-anchor="middle" fill="#1c1c1c" stroke="#1c1c1c" stroke-width="0.1">PBS</text>
<text transform="translate(88.90,545.17) scale(0.91,1)" font-size="8.8" text-anchor="middle" fill="#1c1c1c" stroke="#1c1c1c" stroke-width="0.1">LPS</text>
<text transform="translate(115.40,545.17) scale(0.91,1)" font-size="8.8" text-anchor="middle" fill="#1c1c1c" stroke="#1c1c1c" stroke-width="0.1">LPS+</text>
<text transform="translate(115.40,555.37) scale(0.91,1)" font-size="8.8" text-anchor="middle" fill="#1c1c1c" stroke="#1c1c1c" stroke-width="0.1">&#945;C5</text>
<text transform="translate(27.30,469.20) rotate(-90)" font-size="9" text-anchor="middle" fill="#1c1c1c" stroke="#1c1c1c" stroke-width="0.2">TF<tspan font-size="5.5" dy="-3.6">+</tspan><tspan dy="3.6"> monocytes (%)</tspan></text>
<line x1="65.40" y1="414.90" x2="114.40" y2="414.90" stroke="#1a1a1a" stroke-width="1.3" />
<line x1="65.40" y1="413.50" x2="65.40" y2="416.30" stroke="#1a1a1a" stroke-width="1.3" />
<line x1="114.40" y1="413.50" x2="114.40" y2="416.30" stroke="#1a1a1a" stroke-width="1.3" />
<text x="90.00" y="415.66" font-size="9.5" text-anchor="middle" fill="#1c1c1c" stroke="#1c1c1c" stroke-width="0.3">***</text>
<line x1="65.40" y1="430.00" x2="86.00" y2="430.00" stroke="#1a1a1a" stroke-width="1.3" />
<line x1="65.40" y1="428.60" x2="65.40" y2="431.40" stroke="#1a1a1a" stroke-width="1.3" />
<line x1="86.00" y1="428.60" x2="86.00" y2="431.40" stroke="#1a1a1a" stroke-width="1.3" />
<text x="75.90" y="430.86" font-size="9.5" text-anchor="middle" fill="#1c1c1c" stroke="#1c1c1c" stroke-width="0.3">***</text>
<text x="144.80" y="400.50" font-size="11.2" font-weight="bold" fill="#111">G</text>
<line x1="197.00" y1="413.00" x2="197.00" y2="532.90" stroke="#0a0a0a" stroke-width="1.4" />
<line x1="194.00" y1="532.20" x2="197.00" y2="532.20" stroke="#0a0a0a" stroke-width="1.3" />
<text x="190.40" y="535.26" font-size="8.5" text-anchor="end" fill="#1c1c1c" stroke="#1c1c1c" stroke-width="0.12" font-weight="normal" >0</text>
<line x1="194.00" y1="503.30" x2="197.00" y2="503.30" stroke="#0a0a0a" stroke-width="1.3" />
<text x="190.40" y="506.36" font-size="8.5" text-anchor="end" fill="#1c1c1c" stroke="#1c1c1c" stroke-width="0.12" font-weight="normal" >2000</text>
<line x1="194.00" y1="474.50" x2="197.00" y2="474.50" stroke="#0a0a0a" stroke-width="1.3" />
<text x="190.40" y="477.56" font-size="8.5" text-anchor="end" fill="#1c1c1c" stroke="#1c1c1c" stroke-width="0.12" font-weight="normal" >4000</text>
<line x1="194.00" y1="445.80" x2="197.00" y2="445.80" stroke="#0a0a0a" stroke-width="1.3" />
<text x="190.40" y="448.86" font-size="8.5" text-anchor="end" fill="#1c1c1c" stroke="#1c1c1c" stroke-width="0.12" font-weight="normal" >6000</text>
<line x1="194.00" y1="417.00" x2="197.00" y2="417.00" stroke="#0a0a0a" stroke-width="1.3" />
<text x="190.40" y="420.06" font-size="8.5" text-anchor="end" fill="#1c1c1c" stroke="#1c1c1c" stroke-width="0.12" font-weight="normal" >8000</text>
<line x1="196.30" y1="532.20" x2="278.20" y2="532.20" stroke="#0a0a0a" stroke-width="1.4" />
<line x1="210.40" y1="532.20" x2="210.40" y2="535.20" stroke="#0a0a0a" stroke-width="1.3" />
<line x1="237.90" y1="532.20" x2="237.90" y2="535.20" stroke="#0a0a0a" stroke-width="1.3" />
<line x1="265.40" y1="532.20" x2="265.40" y2="535.20" stroke="#0a0a0a" stroke-width="1.3" />
<line x1="210.38" y1="504.00" x2="210.38" y2="515.30" stroke="#1a1a1a" stroke-width="1.3" />
<line x1="205.97" y1="504.00" x2="214.78" y2="504.00" stroke="#1a1a1a" stroke-width="1.3" />
<rect x="201.25" y="515.30" width="18.25" height="16.90" fill="#a6002a"/>
<line x1="237.88" y1="431.50" x2="237.88" y2="461.50" stroke="#1a1a1a" stroke-width="1.3" />
<line x1="233.28" y1="431.50" x2="242.47" y2="431.50" stroke="#1a1a1a" stroke-width="1.3" />
<rect x="228.75" y="461.50" width="18.25" height="70.70" fill="#a6002a"/>
<line x1="265.38" y1="495.00" x2="265.38" y2="503.60" stroke="#1a1a1a" stroke-width="1.3" />
<line x1="260.98" y1="495.00" x2="269.77" y2="495.00" stroke="#1a1a1a" stroke-width="1.3" />
<rect x="256.25" y="503.60" width="18.25" height="28.60" fill="#a6002a"/>
<text transform="translate(210.40,546.17) scale(0.91,1)" font-size="8.8" text-anchor="middle" fill="#1c1c1c" stroke="#1c1c1c" stroke-width="0.1">PBS</text>
<text transform="translate(237.90,546.17) scale(0.91,1)" font-size="8.8" text-anchor="middle" fill="#1c1c1c" stroke="#1c1c1c" stroke-width="0.1">PBS</text>
<text transform="translate(265.40,546.17) scale(0.91,1)" font-size="8.8" text-anchor="middle" fill="#1c1c1c" stroke="#1c1c1c" stroke-width="0.1">Rutin</text>
<line x1="228.50" y1="551.30" x2="274.60" y2="551.30" stroke="#1a1a1a" stroke-width="1.3" />
<text transform="translate(251.40,561.67) scale(0.91,1)" font-size="8.8" text-anchor="middle" fill="#1c1c1c" stroke="#1c1c1c" stroke-width="0.1">LPS</text>
<text transform="translate(165.80,473.10) rotate(-90)" font-size="9.3" text-anchor="middle" fill="#1c1c1c" stroke="#1c1c1c" stroke-width="0.2">PCA (AU)</text>
<line x1="210.30" y1="425.30" x2="265.00" y2="425.30" stroke="#1a1a1a" stroke-width="1.3" />
<line x1="210.30" y1="423.90" x2="210.30" y2="426.70" stroke="#1a1a1a" stroke-width="1.3" />
<line x1="265.00" y1="423.90" x2="265.00" y2="426.70" stroke="#1a1a1a" stroke-width="1.3" />
<circle cx="238.9" cy="425.3" r="1.4" fill="#1a1a1a"/>
<text x="224.6" y="426.26" font-size="9.5" text-anchor="middle" fill="#1c1c1c" stroke="#1c1c1c" stroke-width="0.3">***</text>
<text x="252.3" y="426.26" font-size="9.5" text-anchor="middle" fill="#1c1c1c" stroke="#1c1c1c" stroke-width="0.3">**</text>
<text x="293.50" y="400.50" font-size="11.2" font-weight="bold" fill="#111">H</text>
<line x1="345.40" y1="415.60" x2="345.40" y2="532.80" stroke="#0a0a0a" stroke-width="1.4" />
<line x1="342.10" y1="532.10" x2="345.40" y2="532.10" stroke="#0a0a0a" stroke-width="1.3" />
<text x="338.50" y="535.16" font-size="8.5" text-anchor="end" fill="#1c1c1c" stroke="#1c1c1c" stroke-width="0.12" font-weight="normal" >0</text>
<line x1="342.10" y1="494.30" x2="345.40" y2="494.30" stroke="#0a0a0a" stroke-width="1.3" />
<text x="338.50" y="497.36" font-size="8.5" text-anchor="end" fill="#1c1c1c" stroke="#1c1c1c" stroke-width="0.12" font-weight="normal" >2000</text>
<line x1="342.10" y1="457.00" x2="345.40" y2="457.00" stroke="#0a0a0a" stroke-width="1.3" />
<text x="338.50" y="460.06" font-size="8.5" text-anchor="end" fill="#1c1c1c" stroke="#1c1c1c" stroke-width="0.12" font-weight="normal" >4000</text>
<line x1="342.10" y1="419.60" x2="345.40" y2="419.60" stroke="#0a0a0a" stroke-width="1.3" />
<text x="338.50" y="422.66" font-size="8.5" text-anchor="end" fill="#1c1c1c" stroke="#1c1c1c" stroke-width="0.12" font-weight="normal" >6000</text>
<line x1="344.70" y1="532.10" x2="511.80" y2="532.10" stroke="#0a0a0a" stroke-width="1.4" />
<line x1="359.75" y1="532.10" x2="359.75" y2="535.10" stroke="#0a0a0a" stroke-width="1.3" />
<line x1="387.65" y1="532.10" x2="387.65" y2="535.10" stroke="#0a0a0a" stroke-width="1.3" />
<line x1="415.60" y1="532.10" x2="415.60" y2="535.10" stroke="#0a0a0a" stroke-width="1.3" />
<line x1="443.60" y1="532.10" x2="443.60" y2="535.10" stroke="#0a0a0a" stroke-width="1.3" />
<line x1="471.40" y1="532.10" x2="471.40" y2="535.10" stroke="#0a0a0a" stroke-width="1.3" />
<line x1="499.65" y1="532.10" x2="499.65" y2="535.10" stroke="#0a0a0a" stroke-width="1.3" />
<line x1="359.75" y1="507.00" x2="359.75" y2="513.80" stroke="#1a1a1a" stroke-width="1.3" />
<line x1="355.25" y1="507.00" x2="364.25" y2="507.00" stroke="#1a1a1a" stroke-width="1.3" />
<rect x="350.50" y="513.80" width="18.50" height="18.30" fill="#a6002a"/>
<line x1="387.65" y1="433.40" x2="387.65" y2="459.40" stroke="#1a1a1a" stroke-width="1.3" />
<line x1="383.00" y1="433.40" x2="392.30" y2="433.40" stroke="#1a1a1a" stroke-width="1.3" />
<rect x="378.30" y="459.40" width="18.70" height="72.70" fill="#a6002a"/>
<line x1="415.60" y1="513.00" x2="415.60" y2="522.00" stroke="#1a1a1a" stroke-width="1.3" />
<line x1="410.75" y1="513.00" x2="420.45" y2="513.00" stroke="#1a1a1a" stroke-width="1.3" />
<rect x="406.20" y="522.00" width="18.80" height="10.10" fill="#a6002a"/>
<line x1="443.60" y1="493.30" x2="443.60" y2="503.70" stroke="#1a1a1a" stroke-width="1.3" />
<line x1="438.60" y1="493.30" x2="448.60" y2="493.30" stroke="#1a1a1a" stroke-width="1.3" />
<rect x="434.20" y="503.70" width="18.80" height="28.40" fill="#a6002a"/>
<line x1="471.40" y1="497.50" x2="471.40" y2="503.70" stroke="#1a1a1a" stroke-width="1.3" />
<line x1="466.15" y1="497.50" x2="476.65" y2="497.50" stroke="#1a1a1a" stroke-width="1.3" />
<rect x="462.00" y="503.70" width="18.80" height="28.40" fill="#a6002a"/>
<line x1="499.65" y1="460.00" x2="499.65" y2="468.00" stroke="#1a1a1a" stroke-width="1.3" />
<line x1="494.90" y1="460.00" x2="504.40" y2="460.00" stroke="#1a1a1a" stroke-width="1.3" />
<rect x="490.00" y="468.00" width="19.30" height="64.10" fill="#a6002a"/>
<text transform="translate(359.75,546.17) scale(0.91,1)" font-size="8.8" text-anchor="middle" fill="#1c1c1c" stroke="#1c1c1c" stroke-width="0.1">PBS</text>
<text transform="translate(387.65,546.17) scale(0.91,1)" font-size="8.8" text-anchor="middle" fill="#1c1c1c" stroke="#1c1c1c" stroke-width="0.1">PBS</text>
<text transform="translate(415.60,546.17) scale(0.91,1)" font-size="8.8" text-anchor="middle" fill="#1c1c1c" stroke="#1c1c1c" stroke-width="0.1">&#945;TF</text>
<text transform="translate(443.60,546.17) scale(0.91,1)" font-size="8.8" text-anchor="middle" fill="#1c1c1c" stroke="#1c1c1c" stroke-width="0.1">&#945;C5</text>
<text transform="translate(471.40,546.17) scale(0.91,1)" font-size="8.8" text-anchor="middle" fill="#1c1c1c" stroke="#1c1c1c" stroke-width="0.1">&#945;C7</text>
<text transform="translate(499.65,546.17) scale(0.91,1)" font-size="8.8" text-anchor="middle" fill="#1c1c1c" stroke="#1c1c1c" stroke-width="0.1">&#945;C9</text>
<line x1="378.60" y1="551.20" x2="509.00" y2="551.20" stroke="#1a1a1a" stroke-width="1.3" />
<text transform="translate(443.50,561.67) scale(0.91,1)" font-size="8.8" text-anchor="middle" fill="#1c1c1c" stroke="#1c1c1c" stroke-width="0.1">LPS</text>
<text transform="translate(313.50,474.70) rotate(-90)" font-size="8.8" text-anchor="middle" fill="#1c1c1c" stroke="#1c1c1c" stroke-width="0.2">PCA (AU)</text>
<line x1="388.20" y1="424.90" x2="408.80" y2="424.90" stroke="#1a1a1a" stroke-width="1.3" />
<line x1="388.20" y1="423.50" x2="388.20" y2="426.30" stroke="#1a1a1a" stroke-width="1.3" />
<line x1="408.80" y1="423.50" x2="408.80" y2="426.30" stroke="#1a1a1a" stroke-width="1.3" />
<text x="398.50" y="425.96" font-size="9.5" text-anchor="middle" fill="#1c1c1c" stroke="#1c1c1c" stroke-width="0.3">***</text>
<line x1="360.00" y1="429.20" x2="498.30" y2="429.20" stroke="#1a1a1a" stroke-width="1.3" />
<line x1="360.00" y1="427.80" x2="360.00" y2="430.60" stroke="#1a1a1a" stroke-width="1.3" />
<line x1="498.30" y1="427.80" x2="498.30" y2="430.60" stroke="#1a1a1a" stroke-width="1.3" />
<text x="428.80" y="430.06" font-size="9.5" text-anchor="middle" fill="#1c1c1c" stroke="#1c1c1c" stroke-width="0.3">**</text>
<line x1="390.80" y1="445.40" x2="473.80" y2="445.40" stroke="#1a1a1a" stroke-width="1.3" />
<line x1="390.80" y1="444.00" x2="390.80" y2="446.80" stroke="#1a1a1a" stroke-width="1.3" />
<line x1="473.80" y1="444.00" x2="473.80" y2="446.80" stroke="#1a1a1a" stroke-width="1.3" />
<text x="432.00" y="446.26" font-size="9.5" text-anchor="middle" fill="#1c1c1c" stroke="#1c1c1c" stroke-width="0.3">**</text>
<line x1="357.70" y1="454.20" x2="385.70" y2="454.20" stroke="#1a1a1a" stroke-width="1.3" />
<line x1="357.70" y1="452.80" x2="357.70" y2="455.60" stroke="#1a1a1a" stroke-width="1.3" />
<line x1="385.70" y1="452.80" x2="385.70" y2="455.60" stroke="#1a1a1a" stroke-width="1.3" />
<text x="371.50" y="454.76" font-size="9.5" text-anchor="middle" fill="#1c1c1c" stroke="#1c1c1c" stroke-width="0.3">***</text>
<line x1="391.20" y1="454.20" x2="442.50" y2="454.20" stroke="#1a1a1a" stroke-width="1.3" />
<line x1="391.20" y1="452.80" x2="391.20" y2="455.60" stroke="#1a1a1a" stroke-width="1.3" />
<line x1="442.50" y1="452.80" x2="442.50" y2="455.60" stroke="#1a1a1a" stroke-width="1.3" />
<text x="416.90" y="454.76" font-size="9.5" text-anchor="middle" fill="#1c1c1c" stroke="#1c1c1c" stroke-width="0.3">***</text>
<rect x="0" y="0" width="520" height="1.15" fill="#000"/>
<rect x="0" y="0" width="1.7" height="571" fill="#000"/>
<rect x="518.3" y="0" width="1.7" height="571" fill="#000"/>
<rect x="0" y="569.3" width="520" height="1.7" fill="#000"/>
</svg>
</body></html>
